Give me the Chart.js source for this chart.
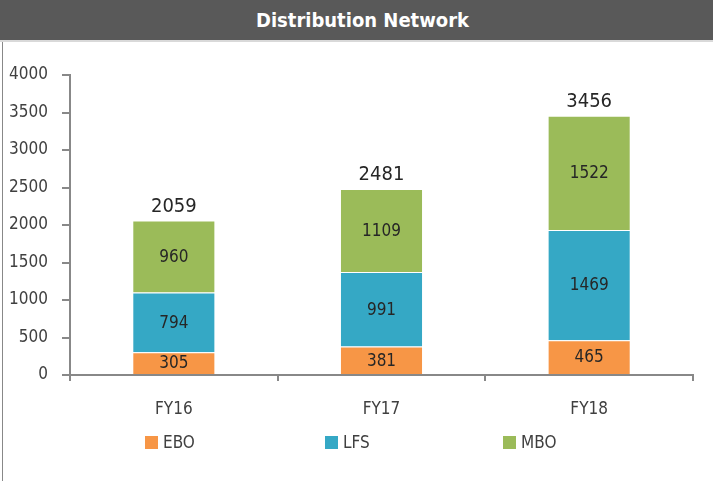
<!DOCTYPE html>
<html>
<head>
<meta charset="utf-8">
<script src="https://cdn.jsdelivr.net/npm/chart.js@4.4.0/dist/chart.umd.min.js"></script>
<style>
  html, body { margin: 0; padding: 0; background: #fff; }
  #wrap { position: relative; width: 713px; height: 481px; overflow: hidden; }
  #titulo {
    height: 40px; background: #595959; color: #fff;
    border-bottom: 2px solid #d9d9d9;
    font: bold 20px "DejaVu Sans Condensed", Roboto, sans-serif;
    text-align: center; line-height: 40px; padding-left: 12px;
  }
  #borde { position: absolute; left: 2px; top: 42px; width: 1px; height: 439px; background: #888; }
  #lienzo { position: absolute; left: 0; top: 42px; }
  #leyenda { position: absolute; top: 434px; left: 0; width: 713px; height: 18px;
    font: 17px "DejaVu Sans Condensed", Roboto, sans-serif; color: #404040; }
  #leyenda span.item { position: absolute; top: 0; line-height: 17px; }
  #leyenda span.caja { display: inline-block; width: 13px; height: 13px; vertical-align: -1px; margin-right: 5px; }
</style>
</head>
<body>
<div id="wrap">
  <div id="titulo">Distribution Network</div>
  <div id="borde"></div>
  <canvas id="lienzo" width="713" height="439"></canvas>
  <div id="leyenda"></div>
</div>
<script>
const categorias = ['FY16', 'FY17', 'FY18'];
const ebo = [305, 381, 465];
const lfs = [794, 991, 1469];
const mbo = [960, 1109, 1522];
const totales = [2059, 2481, 3456];
const series = ['EBO', 'LFS', 'MBO'];
const colores = ['#F79646', '#35A8C5', '#9BBB59'];
const posLeyenda = [145, 325, 503];

const fuente = '"DejaVu Sans Condensed", Roboto, sans-serif';

// dibuja los valores dentro de cada tramo y el total encima
const etiquetas = {
  id: 'etiquetas',
  afterDatasetsDraw(chart) {
    const ctx = chart.ctx;
    ctx.save();
    ctx.textAlign = 'center';
    ctx.textBaseline = 'middle';
    ctx.fillStyle = '#262626';
    ctx.font = '17px ' + fuente;
    chart.data.datasets.forEach((ds, i) => {
      chart.getDatasetMeta(i).data.forEach((bar, j) => {
        const y = (bar.y + bar.base) / 2;
        ctx.fillText(ds.data[j], bar.x, y + 1);
      });
    });
    ctx.font = '20px ' + fuente;
    const ultima = chart.getDatasetMeta(chart.data.datasets.length - 1).data;
    ultima.forEach((bar, j) => {
      ctx.fillText(totales[j], bar.x, bar.y - 14);
    });
    ctx.restore();
  }
};

const grafico = new Chart(document.getElementById('lienzo'), {
  type: 'bar',
  data: {
    labels: categorias,
    datasets: [
      { label: series[0], data: ebo, backgroundColor: colores[0] },
      { label: series[1], data: lfs, backgroundColor: colores[1] },
      { label: series[2], data: mbo, backgroundColor: colores[2] }
    ]
  },
  options: {
    responsive: false,
    animation: false,
    layout: { padding: { left: 2, right: 20, top: 33, bottom: 56 } },
    datasets: {
      bar: {
        categoryPercentage: 1,
        barPercentage: 0.4,
        borderColor: 'rgba(255,255,255,0.6)',
        borderWidth: 1
      }
    },
    scales: {
      x: {
        stacked: true,
        afterFit(scale) { scale.height = 50; },
        grid: { drawOnChartArea: false, drawTicks: true, tickLength: 6, color: '#888', lineWidth: 2 },
        border: { color: '#888', width: 2 },
        ticks: { color: '#404040', font: { family: fuente, size: 17 }, padding: 18 }
      },
      y: {
        stacked: true,
        min: 0,
        max: 4000,
        afterFit(scale) { scale.width = 68; },
        grid: { drawOnChartArea: false, drawTicks: true, tickLength: 8, color: '#888', lineWidth: 2 },
        border: { color: '#888', width: 2 },
        ticks: { stepSize: 500, color: '#404040', font: { family: fuente, size: 17 }, padding: 14,
          callback: v => String(v) }
      }
    },
    plugins: {
      legend: { display: false },
      tooltip: { enabled: false }
    }
  },
  plugins: [etiquetas]
});

// leyenda en HTML a partir de los datasets del gráfico
const leyenda = document.getElementById('leyenda');
grafico.data.datasets.forEach((ds, i) => {
  const item = document.createElement('span');
  item.className = 'item';
  item.style.left = posLeyenda[i] + 'px';
  item.innerHTML = '<span class="caja" style="background:' + ds.backgroundColor + '"></span>' + ds.label;
  leyenda.appendChild(item);
});
</script>
</body>
</html>
